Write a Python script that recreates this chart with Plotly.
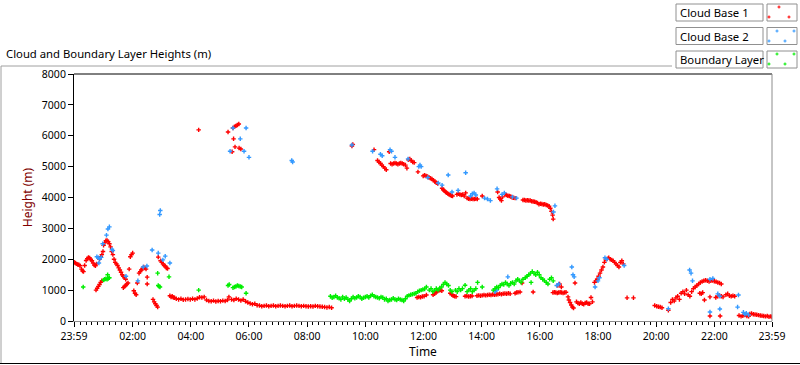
import plotly.graph_objects as go

# ---------------- data (hours after midnight, metres) ----------------
cb1_time = [
    -0.01, 0.03, 0.07, 0.11, 0.15, 0.19, 0.24, 0.28, 0.31, 0.35,
    0.40, 0.44, 0.48, 0.52, 0.56, 0.60, 0.64, 0.68, 0.72, 0.76,
    0.74, 0.78, 0.82, 0.86, 0.90, 0.94, 0.86, 0.90, 0.94, 0.98,
    1.00, 1.04, 1.08, 1.12, 1.16, 1.20, 1.24, 1.28, 1.32, 1.36,
    1.40, 1.44, 1.48, 1.52, 1.56, 1.60, 1.64, 1.68, 1.72, 1.76,
    1.68, 1.72, 1.76, 1.80, 1.84, 1.88, 1.92, 1.96, 2.00, 2.04,
    2.08, 2.12, 2.16, 2.22, 2.26, 2.30, 2.34, 2.38, 2.42, 2.46,
    2.50, 2.50, 2.70, 2.74, 2.78, 2.82, 2.86, 2.88, 2.96, 3.00,
    3.04, 3.08, 3.12, 3.16, 3.20, 3.28, 3.32, 3.36, 3.40, 3.44,
    3.50, 3.58, 3.66, 3.74, 3.82, 3.90, 3.98, 4.06, 4.14, 4.22,
    4.30, 4.38, 4.46, 4.54, 4.62, 4.70, 4.78, 4.86, 4.94, 5.02,
    5.10, 5.18, 5.26, 5.31, 5.40, 5.48, 5.56, 5.64, 5.72, 5.80,
    5.88, 5.96, 6.04, 6.12, 6.20, 6.28, 6.36, 6.44, 6.52, 6.60,
    6.68, 6.76, 6.84, 6.92, 7.00, 7.08, 7.16, 7.24, 7.32, 7.40,
    7.48, 7.56, 7.64, 7.72, 7.80, 7.88, 7.96, 8.04, 8.12, 8.20,
    8.28, 8.36, 8.44, 8.52, 8.60, 8.68, 8.76, 8.84,
    4.27, 5.28, 5.42, 5.45, 5.50, 5.55, 5.60, 5.65, 5.47, 5.52,
    5.66, 5.72,
    9.54, 9.57, 10.30, 10.42, 10.47, 10.52, 10.57, 10.62, 10.67, 10.72,
    10.82, 10.87, 10.92, 10.97, 11.02, 11.07, 11.12, 11.17, 11.22, 11.27,
    11.32, 11.38, 11.43, 11.48, 11.53, 11.58, 11.63, 11.68, 11.81, 11.99,
    12.04, 12.09, 12.14, 12.19, 12.24, 12.29, 12.34, 12.39, 12.44, 12.49,
    12.64, 12.68, 12.72, 12.76, 12.80, 12.84, 12.88, 12.92, 12.96, 13.00,
    13.15, 13.20, 13.25, 13.30, 13.35, 13.40, 13.45, 13.50, 13.55, 13.60,
    13.65, 13.70, 13.75, 13.80, 13.85, 14.02, 14.55, 14.60, 14.64, 14.68,
    14.72, 14.80, 14.85, 14.90, 14.95, 15.00, 15.05, 15.10, 15.15, 15.42,
    15.47, 15.52, 15.57, 15.62, 15.67, 15.72, 15.77, 15.82, 15.87, 15.92,
    15.97, 16.02, 16.07, 16.12, 16.17, 16.22, 16.27, 16.32, 16.36, 16.40,
    16.44, 16.46,
    11.78, 11.84, 11.90, 11.96, 12.02, 12.10, 12.33, 12.38, 12.43, 12.48,
    12.53, 12.58, 12.63, 12.92, 12.97, 13.02, 13.07, 13.12, 13.43, 13.49,
    13.55, 13.61, 13.67, 13.84, 13.90, 13.96, 14.02, 14.08, 14.14, 14.20,
    14.26, 14.32, 14.38, 14.44, 14.50, 14.56, 14.62, 14.68, 14.74, 14.80,
    14.86, 14.92, 14.98, 15.15, 15.20, 15.25, 15.32, 15.39, 15.77, 16.45,
    16.50, 16.55, 16.60, 16.65, 16.70, 16.75, 16.80, 16.85, 16.90, 16.62,
    16.68, 16.74,
    16.97, 17.00, 17.04, 17.08, 17.12, 17.16, 17.21, 17.26, 17.31, 17.36,
    17.41, 17.46, 17.51, 17.56, 17.61, 17.66, 17.71, 17.76, 17.81, 17.88,
    17.93, 17.97, 18.02, 18.07, 18.12, 18.17, 18.22, 18.27, 18.32, 18.37,
    18.42, 18.47, 18.52, 18.57, 18.62, 18.67, 18.72, 18.77, 18.82, 18.87,
    19.00, 19.22,
    19.95, 20.02, 20.08, 20.14, 20.20, 20.42, 20.50, 20.56, 20.62, 20.68,
    20.74, 20.80, 20.86, 20.92, 20.98, 21.04, 21.10, 21.16, 21.22, 21.28,
    21.34, 21.40, 21.46, 21.52, 21.58, 21.64, 21.70, 21.76, 21.82, 21.88,
    21.94, 22.00, 22.06, 22.12, 22.18, 22.24, 21.50, 21.55, 21.60, 21.66,
    21.85, 22.05, 22.12, 22.18, 22.24, 22.30, 22.40, 22.46, 22.52, 22.58,
    22.64, 22.70, 21.85, 22.20, 22.85, 22.92, 22.98, 23.05, 23.12, 23.18,
    23.22, 23.28, 23.34, 23.40, 23.46, 23.52, 23.58, 23.64, 23.70, 23.76,
    23.82, 23.88, 23.94, 23.98,
]
cb1_height = [
    1900, 1880, 1850, 1830, 1820, 1790, 1680, 1620, 1600, 1800,
    1960, 2020, 2060, 2040, 1990, 1950, 1880, 1810, 1790, 1850,
    1000, 1060, 1120, 1180, 1250, 1300, 2000, 2080, 2150, 2250,
    2450, 2530, 2600, 2610, 2570, 2500, 2400, 2250, 2150, 2000,
    1900, 1850, 1800, 1720, 1650, 1580, 1500, 1450, 1400, 1350,
    1080, 1120, 1150, 1200, 1230, 1680, 2080, 2150, 2200, 980,
    900, 850, 1230, 1550, 1600, 1650, 1700, 1750, 1720, 1680,
    1420, 1200, 700, 620, 560, 500, 450, 2070, 1950, 1900,
    1850, 1800, 1780, 1720, 1700, 820, 780, 800, 760, 750,
    720, 700, 720, 690, 700, 710, 700, 720, 700, 730,
    770, 760, 780, 680, 650, 640, 660, 630, 650, 640,
    660, 650, 680, 780, 700, 680, 720, 700, 660, 700,
    640, 600, 570, 540, 560, 510, 500, 480, 490, 500,
    480, 490, 500, 480, 490, 500, 490, 480, 490, 500,
    480, 490, 500, 490, 480, 490, 480, 470, 480, 470,
    490, 480, 470, 460, 450, 440, 450, 430,
    6190, 6120, 5480, 6250, 6290, 6320, 6350, 6380, 5900, 5640,
    5600, 5570,
    5670, 5720, 5550, 5200, 5150, 5100, 5050, 5000, 4950, 4900,
    5480, 5100, 5080, 5100, 5120, 5100, 5080, 5100, 5120, 5100,
    5080, 5050, 4950, 5220, 5250, 5200, 5150, 5130, 4830, 4700,
    4720, 4700, 4680, 4650, 4620, 4600, 4560, 4520, 4480, 4450,
    4300, 4250, 4220, 4180, 4150, 4120, 4100, 4080, 4060, 4050,
    4100, 4120, 4100, 4080, 4100, 4050, 4150, 3980, 3960, 3950,
    3960, 3950, 3950, 3960, 3950, 4050, 4180, 4000, 3950, 3900,
    4020, 4100, 4080, 4060, 4050, 4030, 4000, 3990, 3980, 3920,
    3920, 3900, 3910, 3900, 3900, 3880, 3870, 3860, 3850, 3820,
    3780, 3800, 3790, 3770, 3780, 3760, 3740, 3720, 3650, 3550,
    3430, 3300,
    760, 780, 770, 790, 800, 840, 850, 880, 920, 960,
    990, 1000, 980, 900, 860, 820, 800, 790, 800, 810,
    790, 800, 810, 820, 830, 820, 830, 840, 830, 840,
    850, 840, 860, 850, 860, 870, 880, 870, 880, 890,
    880, 900, 880, 900, 920, 930, 940, 1230, 940, 920,
    930, 920, 910, 920, 930, 920, 910, 920, 930, 1150,
    1200, 1100,
    780, 680, 600, 520, 450, 420, 1230, 620, 580, 560,
    600, 560, 540, 580, 600, 560, 560, 760, 620, 1250,
    1300, 1350, 1450, 1550, 1650, 1750, 1900, 2000, 2020, 2050,
    2000, 1980, 1950, 1900, 1850, 1800, 1750, 1900, 1950, 1850,
    750, 750,
    500, 480, 460, 450, 430, 350, 600, 700, 650, 750,
    800, 700, 900, 950, 880, 1000, 850, 800, 950, 1050,
    1100, 1150, 1200, 1250, 1280, 1300, 1320, 1300, 1280, 1300,
    1310, 1290, 1270, 1250, 1230, 1200, 900, 880, 920, 680,
    780, 760, 800, 830, 800, 780, 850, 880, 820, 800,
    820, 800, 160, 160, 180, 150, 170, 190, 160, 150,
    230, 240, 220, 210, 200, 190, 180, 170, 160, 150,
    160, 140, 150, 130,
]

cb2_time = [
    0.77, 0.82, 0.87, 0.92, 0.84, 0.97, 1.10, 1.15, 1.20, 1.29,
    1.32, 1.77, 2.18, 2.36, 2.49, 2.67, 2.88, 2.93, 2.95, 3.04,
    3.28, 3.12, 5.35, 5.45, 5.70, 5.83, 5.90, 6.00, 7.47, 7.50,
    9.54, 10.25, 10.52, 10.58, 10.85, 10.90, 11.02, 11.47, 11.84, 11.88,
    11.92, 12.15, 12.51, 12.64, 12.85, 12.98, 13.19, 13.45, 13.62, 13.68,
    13.74, 13.80, 14.10, 14.20, 14.30, 14.53, 14.70, 14.78, 15.06, 15.20,
    16.47, 16.52, 14.46, 14.52, 14.90, 16.58, 16.65, 17.10, 17.14, 17.18,
    17.90, 18.00, 18.05, 18.24, 18.30, 18.90, 21.15, 21.20, 21.25, 21.85,
    21.95, 22.12, 22.19, 22.83, 21.85, 22.19, 22.80, 23.00, 23.05, 23.10,
    23.18, 20.42,
]
cb2_height = [
    2080, 2050, 2020, 2060, 1880, 2500, 2780, 2980, 3050, 2320,
    2280, 1450, 1300, 1750, 1780, 2300, 2200, 3450, 3580, 1980,
    1880, 2100, 5500, 6250, 5900, 5500, 6250, 5300, 5200, 5150,
    5700, 5500, 5400, 5350, 5550, 5500, 5300, 5250, 5000, 5050,
    5000, 4650, 4470, 4400, 4730, 4180, 4230, 4800, 4050, 4120,
    4150, 4080, 3980, 3950, 3900, 4280, 4100, 4150, 4020, 3980,
    3530, 3730, 950, 1000, 1430, 1150, 1200, 1750, 1500, 1430,
    1100, 1300, 1400, 2050, 2000, 1800, 1650, 1550, 1300, 1350,
    1380, 880, 800, 840, 290, 390, 450, 280, 220, 250,
    200, 400,
]

bl_time = [
    0.30, 1.00, 1.04, 1.08, 1.12, 1.16, 1.20, 1.14, 2.86, 2.88,
    2.91, 2.94, 3.25, 4.27, 5.28, 5.32, 5.45, 5.50, 5.55, 5.60,
    5.65, 5.70, 5.75, 5.90,
    8.80, 8.86, 8.92, 8.98, 9.04, 9.10, 9.16, 9.22, 9.28, 9.34,
    9.40, 9.46, 9.52, 9.58, 9.64, 9.70, 9.76, 9.82, 9.88, 9.94,
    10.00, 10.06, 10.12, 10.18, 10.24, 10.30, 10.36, 10.42, 10.48, 10.54,
    10.60, 10.66, 10.72, 10.78, 10.84, 10.90, 10.96, 11.02, 11.08, 11.14,
    11.20, 11.26, 11.32, 11.38, 11.44, 11.50, 11.56, 11.62, 11.68, 11.74,
    11.80, 11.86, 11.92, 11.98, 12.04, 12.10, 12.20, 12.26, 12.32, 12.38,
    12.44, 12.50, 12.56, 12.62, 12.68, 12.74, 12.80, 12.86, 12.92, 12.98,
    13.10, 13.16, 13.22, 13.28, 13.34, 13.43, 13.50, 13.56, 13.62, 13.68,
    13.74, 13.80, 13.86, 14.02, 14.40, 14.46, 14.52, 14.58, 14.64, 14.70,
    14.76, 14.82, 14.88, 14.94, 15.00, 15.06, 15.12, 15.18, 15.24, 15.30,
    15.36, 15.42, 15.50, 15.56, 15.62, 15.68, 15.74, 15.80, 15.86, 15.92,
    15.98, 16.04, 16.10, 16.16, 16.22, 16.28, 16.34, 16.40, 16.46, 15.70,
]
bl_height = [
    1100, 1330, 1350, 1370, 1350, 1380, 1400, 1500, 1550, 1150,
    1120, 1100, 1430, 1000, 1150, 1180, 1080, 1100, 1120, 1150,
    1130, 1120, 1100, 900,
    800, 750, 780, 820, 760, 740, 700, 780, 720, 760,
    700, 650, 720, 780, 740, 760, 800, 780, 720, 750,
    780, 800, 760, 820, 850, 800, 780, 760, 740, 780,
    760, 700, 720, 650, 680, 700, 740, 700, 680, 720,
    700, 680, 650, 720, 800, 830, 850, 870, 880, 900,
    950, 980, 1000, 1020, 1040, 1100, 1000, 1050, 950, 1000,
    1050, 1000, 1070, 1100, 1180, 1250, 1200, 1150, 1000, 950,
    1000, 950, 1050, 1000, 1050, 1160, 950, 1000, 1050, 950,
    1000, 1050, 1250, 1100, 1000, 1050, 1100, 1080, 1150, 1200,
    1180, 1250, 1200, 1150, 1220, 1250, 1200, 1300, 1350, 1300,
    1250, 1350, 1400, 1450, 1500, 1550, 1600, 1550, 1500, 1580,
    1500, 1400, 1350, 1300, 1250, 1200, 1350, 1400, 1300, 1250,
]

series_names = ["Cloud Base 1", "Cloud Base 2", "Boundary Layer"]
series_colors = ["#ff0000", "#3399ff", "#00ee00"]

x_tick_vals = [-1 / 60, 2, 4, 6, 8, 10, 12, 14, 16, 18, 20, 22, 24 - 1 / 60]
x_tick_text = ["23:59", "02:00", "04:00", "06:00", "08:00", "10:00", "12:00",
               "14:00", "16:00", "18:00", "20:00", "22:00", "23:59"]
y_tick_vals = [0, 1000, 2000, 3000, 4000, 5000, 6000, 7000, 8000]

assert len(cb1_time) == len(cb1_height)
assert len(cb2_time) == len(cb2_height)
assert len(bl_time) == len(bl_height)

# ---------------- geometry helpers (pixel -> paper) ----------------
W, H = 800, 365
PL, PR, PT, PB = 74, 772, 74, 321
FONT = "Noto Sans"


def fx(px):
    return (px - PL) / (PR - PL)


def fy(py):
    return (PB - py) / (PB - PT)


fig = go.Figure()
for t, h, name, col in [(cb1_time, cb1_height, series_names[0], series_colors[0]),
                        (cb2_time, cb2_height, series_names[1], series_colors[1]),
                        (bl_time, bl_height, series_names[2], series_colors[2])]:
    fig.add_trace(go.Scatter(
        x=t, y=h, mode="markers", name=name, showlegend=False,
        marker=dict(symbol="cross-thin", size=3.2, color=col,
                    line=dict(color=col, width=1.4)),
    ))

shapes = []
grey = "#a0a0a0"
# outer frame
shapes.append(dict(type="line", xref="paper", yref="paper", x0=fx(1), x1=fx(672), y0=fy(66), y1=fy(66),
                   line=dict(color=grey, width=1)))
shapes.append(dict(type="line", xref="paper", yref="paper", x0=fx(1), x1=fx(1), y0=fy(66), y1=fy(363),
                   line=dict(color=grey, width=1)))
shapes.append(dict(type="line", xref="paper", yref="paper", x0=fx(0), x1=fx(800), y0=fy(363.5), y1=fy(363.5),
                   line=dict(color="black", width=1)))
# plot border top and right
shapes.append(dict(type="line", xref="paper", yref="paper", x0=0, x1=1, y0=1, y1=1,
                   line=dict(color="black", width=1)))
shapes.append(dict(type="line", xref="paper", yref="paper", x0=1, x1=1, y0=0, y1=1,
                   line=dict(color="#8c8c8c", width=1)))

annotations = []
annotations.append(dict(xref="paper", yref="paper", x=fx(4), y=fy(54), xanchor="left", yanchor="middle",
                        text="Cloud and Boundary Layer Heights (m)", showarrow=False,
                        font=dict(family=FONT, size=11.3, color="black")))

# legend boxes
swatch_pts = [
    [(779, 7), (769, 17), (789, 17)],
    [(777, 31), (794, 31), (769, 41), (785, 41)],
    [(777, 54), (794, 54), (769, 64), (785, 64)],
]
for i, name in enumerate(series_names):
    top = 4 + 23.5 * i
    bot = top + 17
    shapes.append(dict(type="rect", xref="paper", yref="paper", x0=fx(676), x1=fx(763), y0=fy(bot), y1=fy(top),
                       line=dict(color="#909090", width=1), fillcolor="white"))
    shapes.append(dict(type="rect", xref="paper", yref="paper", x0=fx(767), x1=fx(797), y0=fy(bot), y1=fy(top),
                       line=dict(color="#909090", width=1), fillcolor="white"))
    annotations.append(dict(xref="paper", yref="paper", x=fx(678), y=fy((top + bot) / 2), xanchor="left",
                            yanchor="middle", text=name, showarrow=False,
                            font=dict(family=FONT, size=11.3, color="black")))
    for (px, py) in swatch_pts[i]:
        shapes.append(dict(type="line", xref="paper", yref="paper", x0=fx(px - 1.5), x1=fx(px + 1.5),
                           y0=fy(py), y1=fy(py), line=dict(color=series_colors[i], width=1)))
        shapes.append(dict(type="line", xref="paper", yref="paper", x0=fx(px), x1=fx(px),
                           y0=fy(py - 1.5), y1=fy(py + 1.5), line=dict(color=series_colors[i], width=1)))

fig.update_layout(
    width=W, height=H,
    margin=dict(l=PL, r=W - PR, t=PT, b=H - PB, pad=0, autoexpand=False),
    paper_bgcolor="white", plot_bgcolor="white",
    showlegend=False,
    font=dict(family=FONT, size=12, color="black"),
    shapes=shapes, annotations=annotations,
)
fig.update_xaxes(
    range=[-1 / 60, 24 - 1 / 60], tickmode="array", tickvals=x_tick_vals, ticktext=x_tick_text,
    ticks="outside", ticklen=5, tickcolor="black", tickwidth=1,
    showline=True, linecolor="#8c8c8c", linewidth=1, showgrid=False, zeroline=False,
    tickfont=dict(family=FONT, size=10.5, color="black"),
    minor=dict(tickmode="linear", tick0=0, dtick=0.2, ticks="outside", ticklen=3,
               tickcolor="black", showgrid=False),
    title=dict(text="Time", standoff=3, font=dict(family=FONT, size=12, color="black")),
)
fig.update_yaxes(
    range=[0, 8000], tickmode="array", tickvals=y_tick_vals,
    ticks="outside", ticklen=5, tickcolor="black", tickwidth=1,
    showline=True, linecolor="black", linewidth=1, showgrid=False, zeroline=False,
    tickfont=dict(family=FONT, size=10.5, color="black"),
    title=dict(text="Height (m)", standoff=6, font=dict(family=FONT, size=12, color="#800000")),
)

fig.write_html("out.html", config={"displayModeBar": False},
               post_script="document.body.style.margin='0px';")
